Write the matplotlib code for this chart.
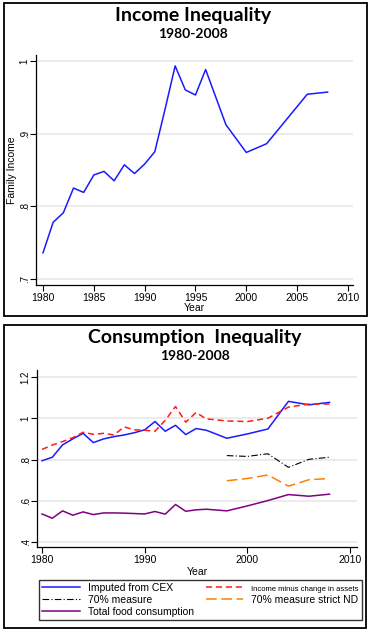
import matplotlib.pyplot as plt
from matplotlib.patches import Rectangle

plt.rcParams['font.family'] = ['Liberation Sans', 'DejaVu Sans']

# income inequality
inc_years = [1980, 1981, 1982, 1983, 1984, 1985, 1986, 1987, 1988, 1989, 1990,
             1991, 1992, 1993, 1994, 1995, 1996, 1998, 2000, 2002, 2004, 2006, 2008]
inc_vals = [.736, .778, .791, .825, .819, .843, .848, .835, .857, .845, .858,
            .875, .933, .993, .960, .953, .988, .912, .874, .886, .920, .954, .957]

# consumption inequality
cex_years = [1980, 1981, 1982, 1983, 1984, 1985, 1986, 1987, 1988, 1989, 1990,
             1991, 1992, 1993, 1994, 1995, 1996, 1998, 2000, 2002, 2004, 2006, 2008]
cex_vals = [.794, .811, .871, .900, .927, .882, .900, .911, .919, .930, .944,
            .984, .937, .966, .921, .950, .942, .903, .924, .948, 1.082, 1.065, 1.077]
assets_vals = [.849, .870, .887, .906, .932, .922, .927, .919, .958, .944, .942,
               .937, .990, 1.057, .981, 1.028, .997, .987, .984, 1.000, 1.054, 1.069, 1.069]
food_vals = [.536, .515, .551, .530, .546, .533, .541, .541, .540, .538, .536,
             .548, .535, .582, .549, .556, .559, .551, .575, .601, .630, .622, .632]

m70_years = [1998, 2000, 2002, 2004, 2006, 2008]
m70_vals = [.819, .815, .828, .762, .801, .811]
nd_vals = [.697, .708, .725, .671, .702, .708]

W, H = 371, 632
fig = plt.figure(figsize=(W / 100, H / 100), dpi=100)

def box(x0, y0, x1, y1):
    return [x0 / W, 1 - y1 / H, (x1 - x0) / W, (y1 - y0) / H]

# panel frames
for (x0, y0, x1, y1) in [(4, 3, 367, 316), (4, 325, 366, 628)]:
    fig.patches.append(Rectangle((x0 / W, 1 - y1 / H), (x1 - x0) / W, (y1 - y0) / H,
                                 transform=fig.transFigure, fill=False,
                                 edgecolor='black', linewidth=1.3))

def style(ax, yticks, ylabels):
    for s in ['top', 'right']:
        ax.spines[s].set_visible(False)
    ax.spines['left'].set_linewidth(0.9)
    ax.spines['bottom'].set_linewidth(0.9)
    ax.set_yticks(yticks)
    ax.set_yticklabels(ylabels, rotation=90, va='center', fontsize=7)
    ax.tick_params(axis='x', labelsize=7.5, length=4, width=0.8, pad=2)
    ax.tick_params(axis='y', length=4, width=0.8, pad=0.5)
    ax.grid(axis='y', color='#e8e8e8', linewidth=1.2)
    ax.set_axisbelow(True)

# top chart
ax1 = fig.add_axes(box(36, 55, 353, 285))
ax1.plot(inc_years, inc_vals, color='#1a1aff', linewidth=1.1)
ax1.set_xlim(1979.31, 2010.5)
ax1.set_ylim(0.6917, 1.008)
ax1.set_xticks([1980, 1985, 1990, 1995, 2000, 2005, 2010])
style(ax1, [.7, .8, .9, 1], ['.7', '.8', '.9', '1'])
ax1.set_ylabel('Family Income', fontsize=7.5, labelpad=2)
ax1.set_xlabel('Year', fontsize=7.5, labelpad=0)
fig.text(193 / W, 1 - 16 / H, 'Income Inequality', ha='center', va='center',
         fontsize=14, fontweight='bold', family='Lato')
fig.text(193 / W, 1 - 34 / H, '1980-2008', ha='center', va='center',
         fontsize=10, fontweight='bold', family='Lato')

# bottom chart
ax2 = fig.add_axes(box(37, 370, 357, 547))
l_cex, = ax2.plot(cex_years, cex_vals, color='#1a1aff', linewidth=1.1)
l_ast, = ax2.plot(cex_years, assets_vals, color='#ff1a1a', linewidth=1.1,
                  linestyle=(0, (4, 2.5)))
l_m70, = ax2.plot(m70_years, m70_vals, color='black', linewidth=0.8,
                  linestyle=(0, (6, 2, 1, 2)))
l_nd, = ax2.plot(m70_years, nd_vals, color='#ff8000', linewidth=1.1,
                 linestyle=(0, (7, 3)))
l_food, = ax2.plot(cex_years, food_vals, color='#800080', linewidth=1.1)
ax2.set_xlim(1979.51, 2010.68)
ax2.set_ylim(0.3758, 1.234)
ax2.set_xticks([1980, 1990, 2000, 2010])
style(ax2, [.4, .6, .8, 1, 1.2], ['.4', '.6', '.8', '1', '1.2'])
ax2.set_xlabel('Year', fontsize=7.5, labelpad=1)
fig.text(195 / W, 1 - 338 / H, 'Consumption  Inequality', ha='center', va='center',
         fontsize=14, fontweight='bold', family='Lato')
fig.text(195 / W, 1 - 356 / H, '1980-2008', ha='center', va='center',
         fontsize=10, fontweight='bold', family='Lato')

# legend filled column-wise, so order gives row layout of the original
handles = [l_cex, l_m70, l_food, l_ast, l_nd]
labels = ['Imputed from CEX', '70% measure', 'Total food consumption',
          'Income minus change in assets', '70% measure strict ND']
leg = fig.legend(handles, labels, loc='lower left',
                 bbox_to_anchor=box(39, 578, 362, 620), bbox_transform=fig.transFigure,
                 mode='expand', ncol=2, fontsize=7.5, frameon=True, fancybox=False,
                 edgecolor='black', handlelength=3.6, handletextpad=0.8,
                 borderpad=0.3, labelspacing=0.2, borderaxespad=0, columnspacing=1.5)
leg.get_frame().set_linewidth(1.0)
leg.get_texts()[3].set_fontsize(5.5)

fig.savefig('out.png', dpi=100)
